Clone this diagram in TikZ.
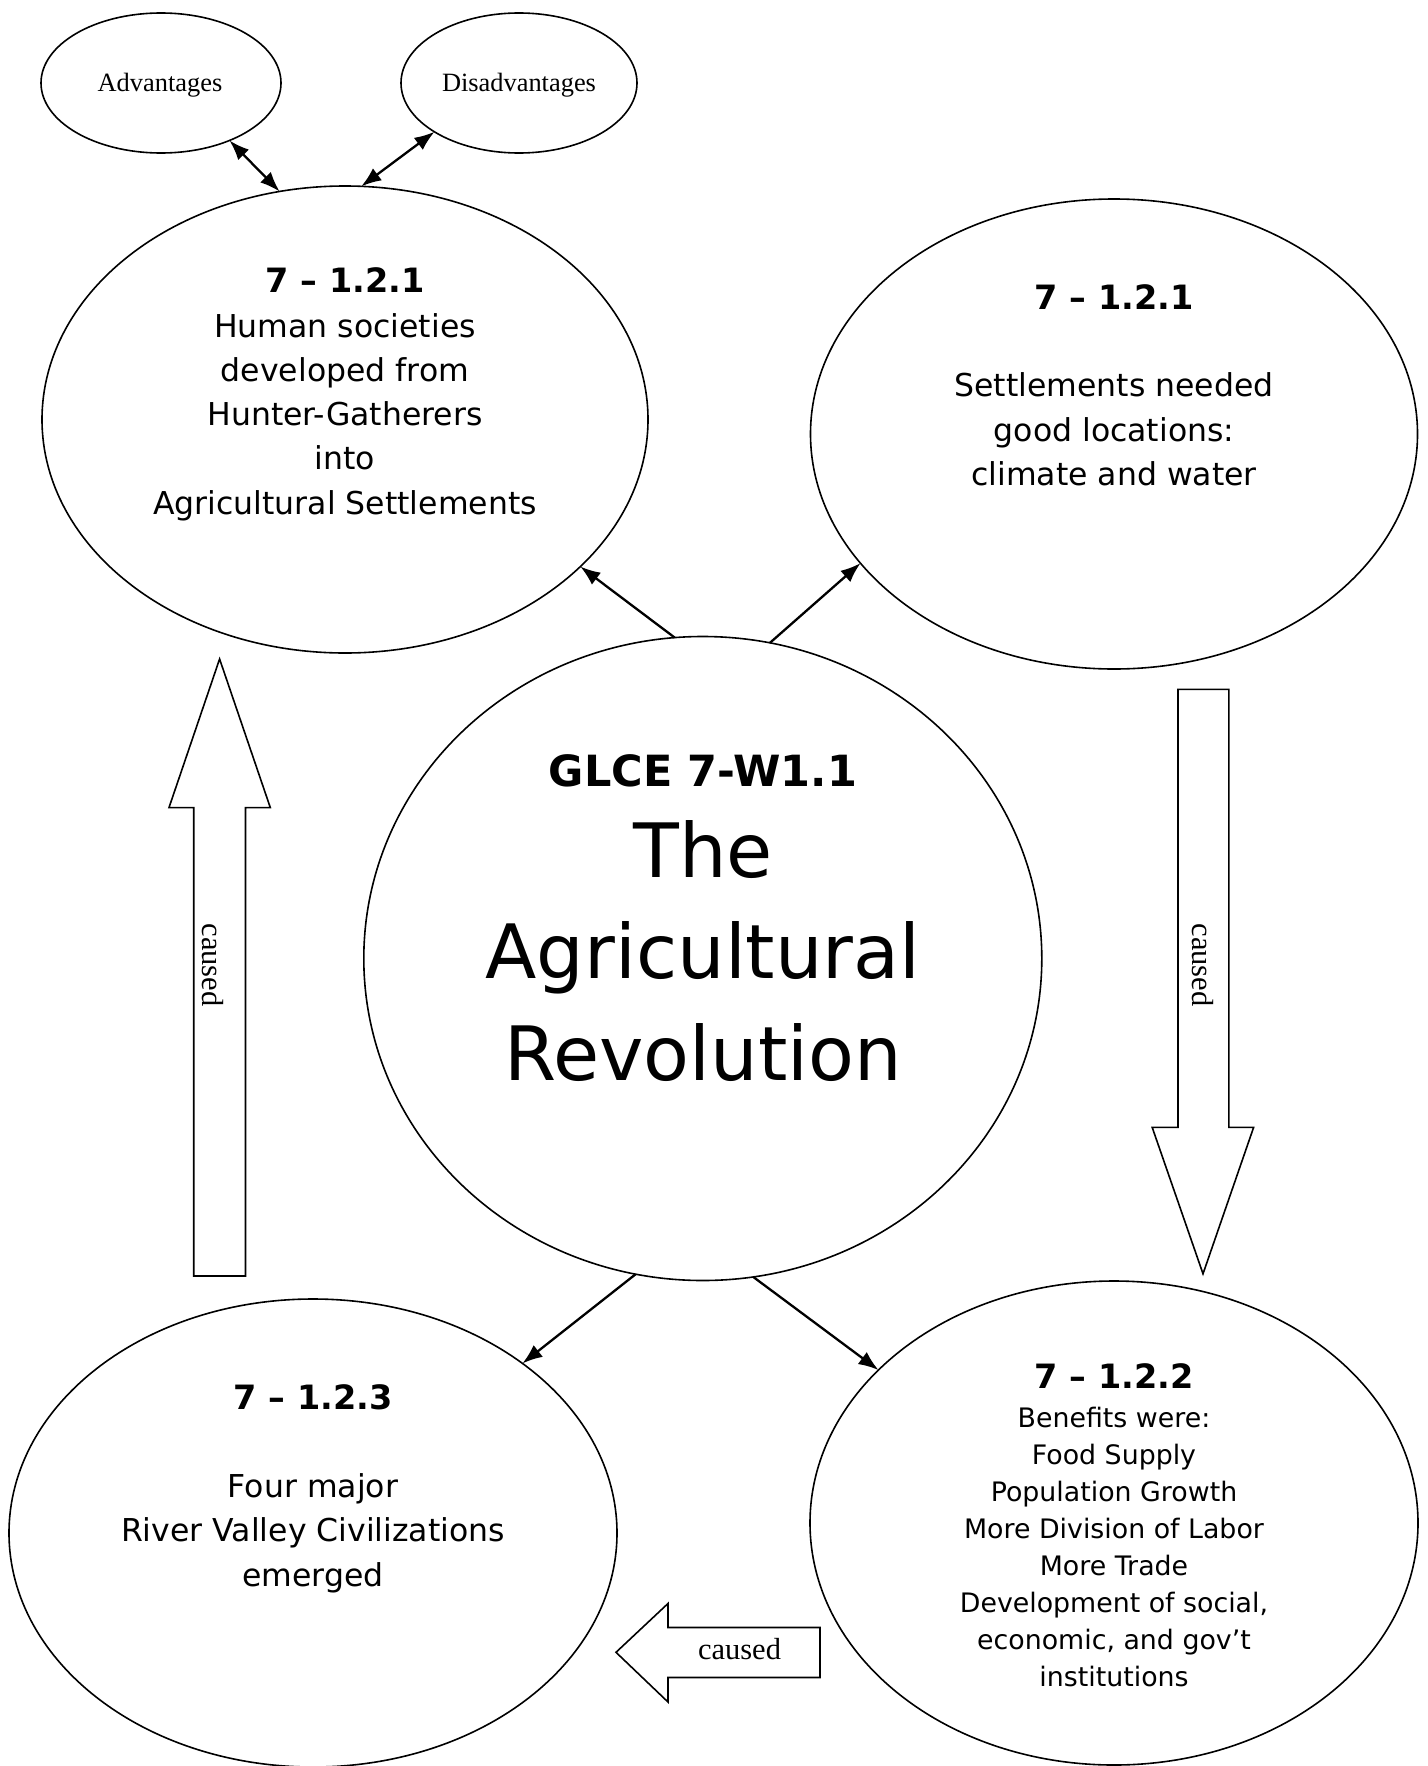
\documentclass[tikz,border=0pt]{standalone}
\usepackage{fontspec}
\setmainfont{Liberation Serif}
\newfontfamily\dv{DejaVu Sans}
\usetikzlibrary{shapes.geometric,arrows.meta}
\begin{document}
\begin{tikzpicture}[x=1pt,y=-1pt,
  ell/.style={draw, ellipse, line width=1.6pt, inner sep=0pt, outer sep=0pt},
  conn/.style={line width=2.3pt, -{Latex[length=20pt,width=15pt]}},
  dconn/.style={line width=2.3pt, {Latex[length=20pt,width=15pt]}-{Latex[length=20pt,width=15pt]}},
  blk/.style={draw, line width=1.6pt, line join=miter},
  head/.style={font=\dv\bfseries\fontsize{33.5}{40}\selectfont, anchor=base, inner sep=0pt},
  body/.style={font=\dv\fontsize{31.5}{44.3}\selectfont, align=center, inner sep=0pt},
  smallbody/.style={font=\dv\fontsize{26.8}{37}\selectfont, align=center, inner sep=0pt},
  lbl/.style={font=\fontsize{26.4}{30}\selectfont, inner sep=0pt},
  capt/.style={font=\fontsize{30.5}{34}\selectfont, inner sep=0pt}]
\useasboundingbox (0,0) rectangle (1427,1766);

% ellipses
\node[ell, minimum width=240pt, minimum height=140pt] (adv) at (161,83) {};
\node[ell, minimum width=236pt, minimum height=140pt] (dis) at (519,83) {};
\node[ell, minimum width=606pt, minimum height=467pt] (e1) at (345,419.5) {};
\node[ell, minimum width=607pt, minimum height=470pt] (e2) at (1114,434) {};
\node[ell, minimum width=678pt, minimum height=644pt] (c) at (702.8,958.5) {};
\node[ell, minimum width=608pt, minimum height=468pt] (e3) at (313,1533) {};
\node[ell, minimum width=608pt, minimum height=484pt] (e4) at (1114,1523) {};

% small labels
\node[lbl] (advt) at (160,85) {Advantages};
\node[lbl] (dist) at (519,85) {Disadvantages};

% texts
\node[head] (e1h) at (345,292) {7 – 1.2.1};
\node[body] (e1b) at (345,417) {Human societies\\developed from\\Hunter-Gatherers\\into\\Agricultural Settlements};

\node[head] (e2h) at (1114,309) {7 – 1.2.1};
\node[body] (e2b) at (1114,429.4) {Settlements needed\\good locations:\\climate and water};

\node[head] (e3h) at (313,1409) {7 – 1.2.3};
\node[body] (e3b) at (313,1533) {Four major\\River Valley Civilizations\\emerged};

\node[head] (e4h) at (1114,1388) {7 – 1.2.2};
\node[smallbody] (e4b) at (1114,1547) {Benefits were:\\Food Supply\\Population Growth\\More Division of Labor\\More Trade\\Development of social,\\economic, and gov’t\\institutions};

\node[font=\dv\bfseries\fontsize{43}{50}\selectfont, anchor=base, inner sep=0pt] (ch) at (703,786) {GLCE 7-W1.1};
\node[font=\dv\fontsize{75}{101.5}\selectfont, align=center, inner sep=0pt] (ct) at (703,951) {The\\Agricultural\\Revolution};

% connectors
\draw[conn] (c.95.8) -- (e1.-32.4);
\draw[conn] (c.78.2) -- (e2.207.2);
\draw[conn] (c.258.5) -- (e3.39);
\draw[conn] (c.279.6) -- (e4.147.6);
\draw[dconn] (adv.-40) -- (e1.106.8);
\draw[dconn] (e1.86) -- (dis.210);

% block arrows
\draw[blk] (193.7,1276) -- (193.7,807.6) -- (169,807.6) -- (219.6,659) -- (270.3,807.6) -- (245.5,807.6) -- (245.5,1276) -- cycle;
\draw[blk] (1178,689.3) -- (1228.8,689.3) -- (1228.8,1127.4) -- (1253.6,1127.4) -- (1203,1273.8) -- (1152.2,1127.4) -- (1178,1127.4) -- cycle;
\draw[blk] (820,1627.5) -- (668,1627.5) -- (668,1603.5) -- (616,1652.3) -- (668,1702) -- (668,1677.5) -- (820,1677.5) -- cycle;

\node[capt, rotate=-90] (cl) at (213,965) {caused};
\node[capt, rotate=-90] (cr) at (1203,965) {caused};
\node[capt] (cb) at (739.5,1649) {caused};
\end{tikzpicture}
\end{document}
